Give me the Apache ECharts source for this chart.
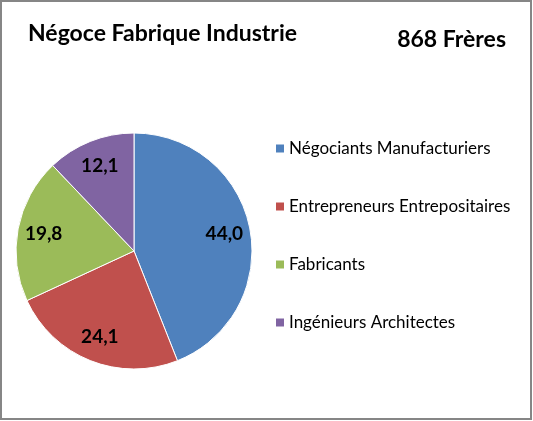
<!DOCTYPE html>
<html>
<head>
<meta charset="utf-8">
<script src="https://cdn.jsdelivr.net/npm/echarts@6/dist/echarts.min.js"></script>
<style>
html,body{margin:0;padding:0;background:#fff;}
#c{width:533px;height:421px;}
</style>
</head>
<body>
<div id="c"></div>
<script>
var categories = ["Négociants Manufacturiers", "Entrepreneurs Entrepositaires", "Fabricants", "Ingénieurs Architectes"];
var values = [44.0, 24.1, 19.8, 12.1];
var colors = ["#4F81BD", "#C0504D", "#9BBB59", "#8064A2"];
var titleText = "Négoce Fabrique Industrie";
var subText = "868 Frères";

var FONT = "Lato";
var chart = echarts.init(document.getElementById('c'), null, {renderer: 'canvas'});
var data = categories.map(function (n, i) { return {name: n, value: values[i], itemStyle: {color: colors[i]}}; });
var labelData = categories.map(function (n, i) { return {name: n, value: values[i]}; });
var fmt = function (p) { return p.value.toFixed(1).replace('.', ','); };

chart.setOption({
  animation: false,
  backgroundColor: '#fff',
  graphic: [
    {type: 'rect', shape: {x: 1, y: 1, width: 530, height: 418}, style: {fill: 'none', stroke: '#868686', lineWidth: 2}, z: 100},
    {type: 'text', left: 28, top: 22, style: {text: titleText, font: 'bold 23px ' + FONT, fill: '#000'}},
    {type: 'text', right: 27, top: 28, style: {text: subText, font: 'bold 23px ' + FONT, fill: '#000'}}
  ],
  legend: {
    orient: 'vertical',
    left: 274,
    top: 140,
    padding: 0,
    itemGap: 41,
    itemWidth: 10,
    itemHeight: 10,
    icon: 'rect',
    data: categories,
    textStyle: {fontFamily: FONT, fontSize: 17, color: '#000', padding: [0, 0, 0, -1]},
    selectedMode: false
  },
  series: [
    {
      type: 'pie',
      center: [134, 251],
      radius: [0, 118],
      startAngle: 90,
      clockwise: true,
      data: data,
      label: {show: false},
      labelLine: {show: false},
      itemStyle: {borderColor: '#fff', borderWidth: 1},
      emphasis: {disabled: true}
    },
    {
      type: 'pie',
      center: [134, 251],
      radius: [60, 118],
      startAngle: 90,
      clockwise: true,
      silent: true,
      data: labelData,
      itemStyle: {color: 'rgba(0,0,0,0)', borderWidth: 0},
      label: {show: true, position: 'inside', formatter: fmt, fontFamily: FONT, fontWeight: 'bold', fontSize: 19, color: '#000'},
      labelLine: {show: false},
      emphasis: {disabled: true}
    }
  ]
});
</script>
</body>
</html>
